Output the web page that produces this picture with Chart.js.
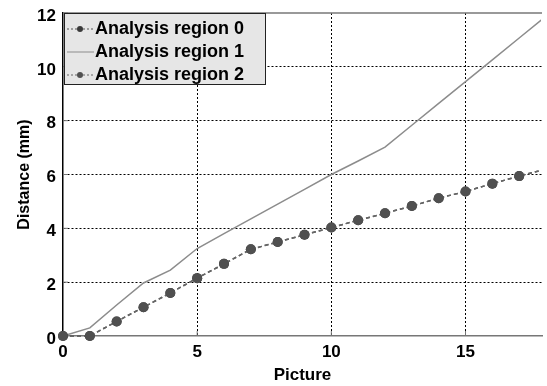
<!DOCTYPE html>
<html>
<head>
<meta charset="utf-8">
<script src="https://cdn.jsdelivr.net/npm/chart.js@4/dist/chart.umd.min.js"></script>
<style>
  body { margin: 0; background: #fff; }
  canvas { display: block; }
</style>
</head>
<body>
<canvas id="myChart" width="547" height="386"></canvas>
<script>
// picture numbers along x
const pictures = [0, 1, 2, 3, 4, 5, 6, 7, 8, 9, 10, 11, 12, 13, 14, 15, 16, 17, 18];

// distance in mm for each analysis region
const region0 = [0, 0, 0.54, 1.07, 1.6, 2.15, 2.68, 3.22, 3.49, 3.76, 4.03, 4.3, 4.56, 4.83, 5.12, 5.37, 5.66, 5.94, 6.2];
const region1 = [0, 0.3, 1.15, 1.97, 2.45, 3.25, 3.8, 4.35, 4.9, 5.45, 6.0, 6.5, 7.02, 7.83, 8.64, 9.45, 10.26, 11.07, 11.88];
const region2 = [0, 0, 0.54, 1.07, 1.6, 2.15, 2.68, 3.22, 3.49, 3.76, 4.03, 4.3, 4.56, 4.83, 5.12, 5.37, 5.66, 5.94, 6.2];

const labels = ['Analysis region 0', 'Analysis region 1', 'Analysis region 2'];
const xTicks = [0, 5, 10, 15];
const yTicks = [0, 2, 4, 6, 8, 10, 12];

const font = 'Liberation Sans, Arial, sans-serif';

function pts(ys) {
  return pictures.map((x, i) => ({ x: x, y: ys[i] }));
}

// legend box inside the plot, top left
const boxLegend = {
  id: 'boxLegend',
  afterDraw(chart) {
    const c = chart.ctx;
    const a = chart.chartArea;
    const ds = chart.data.datasets;
    const x0 = a.left + 1, y0 = a.top, w = 202, h = 72;
    c.save();
    c.fillStyle = '#e6e6e6';
    c.fillRect(x0, y0, w, h);
    c.strokeStyle = '#222';
    c.lineWidth = 1;
    c.strokeRect(x0 + 0.5, y0 + 0.5, w - 1, h - 1);
    c.font = 'bold 18px ' + font;
    c.textBaseline = 'middle';
    c.fillStyle = '#000';
    ds.forEach((d, i) => {
      const y = y0 + 16 + i * 23;
      c.strokeStyle = d.borderColor;
      c.lineWidth = 1;
      c.setLineDash(d.pointRadius ? [2, 2] : []);
      c.beginPath();
      c.moveTo(x0 + 3, y);
      c.lineTo(x0 + 30, y);
      c.stroke();
      c.setLineDash([]);
      if (d.pointRadius) {
        c.fillStyle = d.pointBackgroundColor;
        c.beginPath();
        c.arc(x0 + 16, y, 3, 0, Math.PI * 2);
        c.fill();
      }
      c.fillStyle = '#000';
      c.fillText(d.label, x0 + 31, y);
    });
    c.restore();
  }
};

// top border and the short inner tick marks
const frame = {
  id: 'frame',
  beforeDatasetsDraw(chart) {
    const c = chart.ctx;
    const a = chart.chartArea;
    c.save();
    c.strokeStyle = '#777';
    c.lineWidth = 1.5;
    c.beginPath();
    c.moveTo(a.left, a.top);
    c.lineTo(a.right, a.top);
    c.stroke();
    c.lineWidth = 1;
    c.beginPath();
    chart.scales.y.ticks.forEach(t => {
      const y = chart.scales.y.getPixelForValue(t.value);
      c.moveTo(a.left, y);
      c.lineTo(a.left + 5, y);
    });
    chart.scales.x.ticks.forEach(t => {
      const x = chart.scales.x.getPixelForValue(t.value);
      c.moveTo(x, a.bottom);
      c.lineTo(x, a.bottom - 5);
    });
    c.stroke();
    c.restore();
  }
};

const ctx = document.getElementById('myChart');

// let the lines and dots spill over the left and bottom edges, not the right one
const edgeClip = { left: 8, top: 0, right: -1, bottom: 8 };

let graphdata = {
  type: 'line',
  data: {
    datasets: [
      {
        label: labels[0],
        data: pts(region0),
        borderColor: '#555',
        borderWidth: 1.5,
        borderDash: [4, 3],
        pointRadius: 5,
        pointBackgroundColor: '#3a3a3a',
        pointBorderWidth: 0,
        clip: edgeClip,
        order: 2
      },
      {
        label: labels[1],
        data: pts(region1),
        borderColor: '#8c8c8c',
        borderWidth: 1.5,
        pointRadius: 0,
        clip: edgeClip,
        order: 3
      },
      {
        label: labels[2],
        data: pts(region2),
        borderColor: '#666',
        borderWidth: 1.5,
        borderDash: [4, 3],
        pointRadius: 5,
        pointBackgroundColor: '#505050',
        pointBorderWidth: 0,
        clip: edgeClip,
        order: 1
      }
    ]
  },
  options: {
    responsive: false,
    animation: false,
    devicePixelRatio: 1,
    layout: { padding: { top: 13, right: 0, left: 0, bottom: 0 } },
    plugins: {
      legend: { display: false },
      tooltip: { enabled: false }
    },
    scales: {
      x: {
        type: 'linear',
        min: 0,
        max: 17.85,
        afterBuildTicks: s => { s.ticks = xTicks.map(v => ({ value: v })); },
        afterFit: s => { s.height = 50; s.paddingLeft = 0; s.paddingRight = 0; },
        ticks: {
          color: '#000',
          padding: 6,
          font: { family: font, size: 17, weight: 'bold' }
        },
        grid: {
          drawTicks: false,
          color: c => (c.tick && c.tick.value > 0) ? '#000' : 'rgba(0,0,0,0)',
          lineWidth: 1
        },
        // in v4 border.dash sets the dash of the grid lines
        border: { color: '#777', width: 1.5, dash: [2, 2] },
        title: {
          display: true,
          text: 'Picture',
          color: '#000',
          padding: { top: 0, bottom: 0 },
          font: { family: font, size: 17, weight: 'bold' }
        }
      },
      y: {
        min: 0,
        max: 12,
        afterBuildTicks: s => { s.ticks = yTicks.map(v => ({ value: v })); },
        afterFit: s => { s.width = 63; s.paddingTop = 0; s.paddingBottom = 0; },
        ticks: {
          color: '#000',
          padding: 7,
          labelOffset: 3,
          font: { family: font, size: 17, weight: 'bold' }
        },
        grid: {
          drawTicks: false,
          color: c => (c.tick && c.tick.value > 0 && c.tick.value < 12) ? '#000' : 'rgba(0,0,0,0)',
          lineWidth: 1
        },
        border: { color: '#000', width: 1.5, dash: [2, 2] },
        title: {
          display: true,
          text: 'Distance (mm)',
          color: '#000',
          padding: { top: 15, bottom: 0 },
          font: { family: font, size: 16, weight: 'bold' }
        }
      }
    }
  },
  plugins: [frame, boxLegend]
};

let mychart = new Chart(ctx, graphdata);
</script>
</body>
</html>
